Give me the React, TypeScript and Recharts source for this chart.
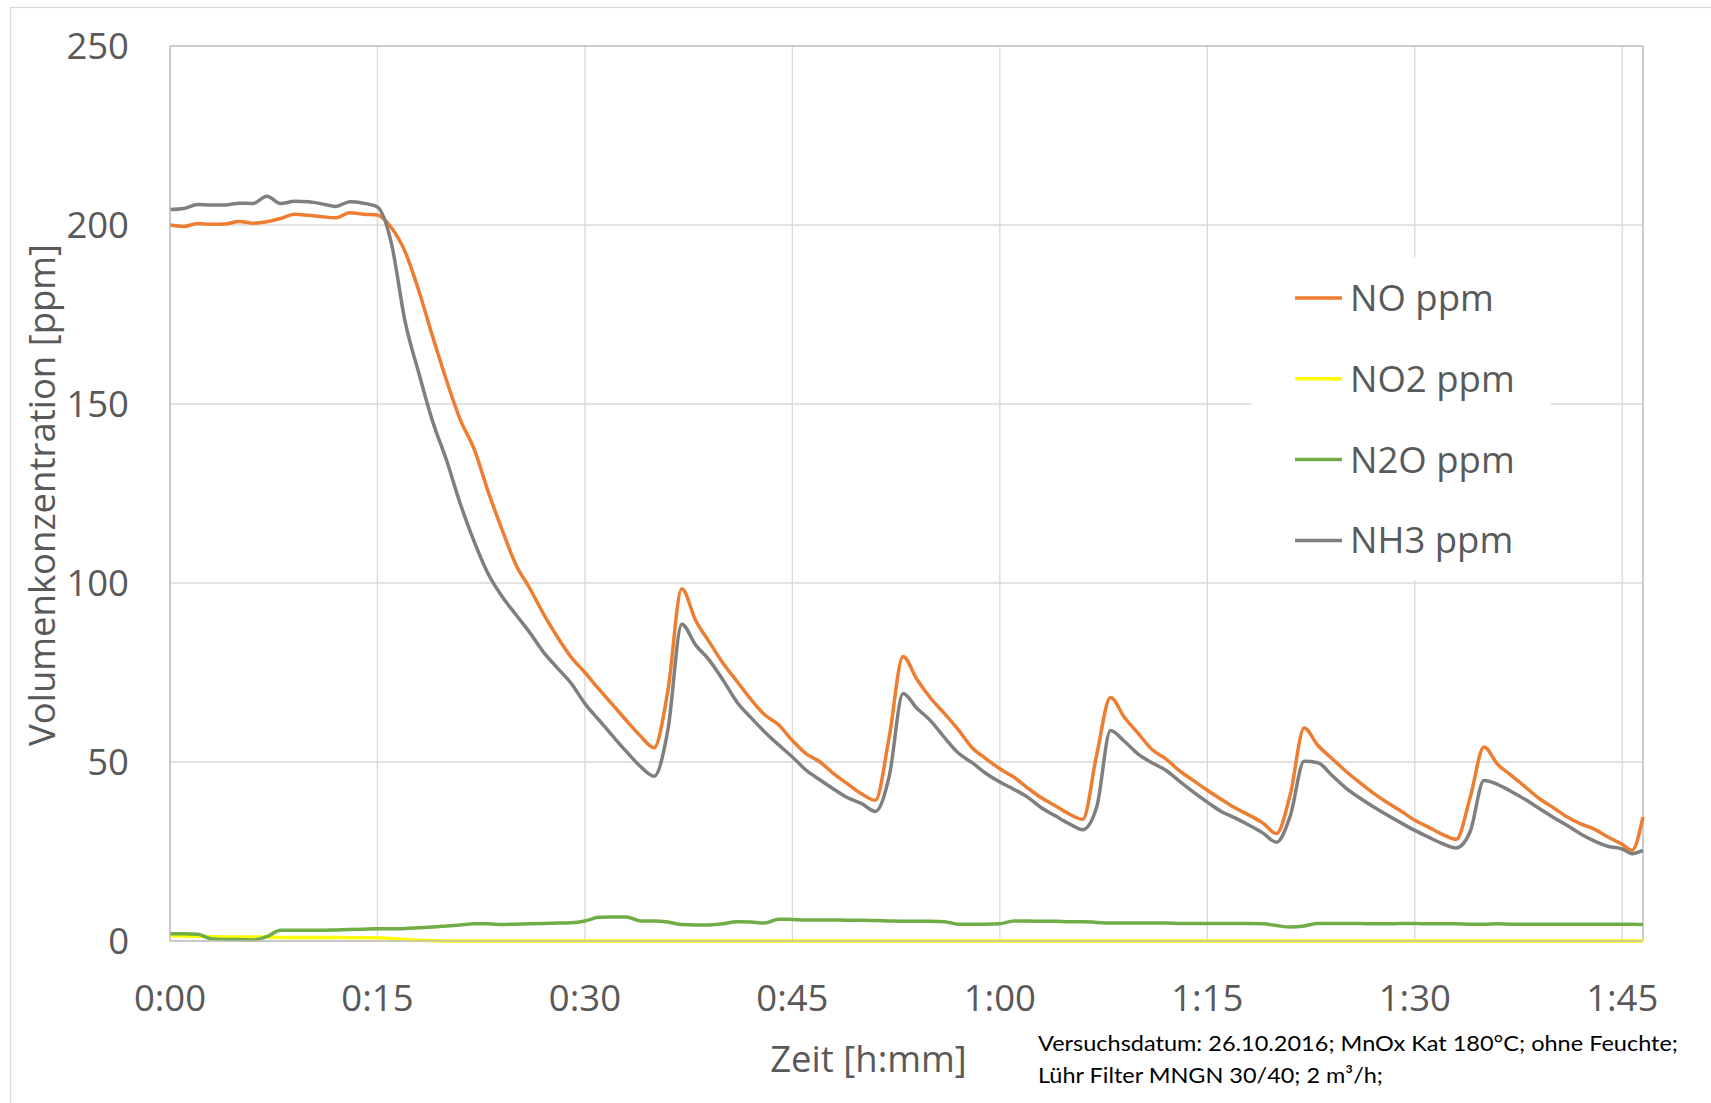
import React from 'react';
import {
  LineChart,
  Line,
  XAxis,
  YAxis,
  CartesianGrid,
  Legend,
  ReferenceLine,
} from 'recharts';

const FONT = "'Open Sans', 'Noto Sans', sans-serif";
const TEXT_COLOR = '#595959';

// Sample times in minutes since start
const minutes = [
  0, 1, 2, 3, 4, 5, 6, 7, 8, 9,
  10, 11, 12, 13, 14, 15, 16, 17, 18, 19,
  20, 21, 22, 23, 24, 25, 26, 27, 28, 29,
  30, 31, 32, 33, 34, 35, 36, 37, 38, 39,
  40, 41, 42, 43, 44, 45, 46, 47, 48, 49,
  50, 51, 52, 53, 54, 55, 56, 57, 58, 59,
  60, 61, 62, 63, 64, 65, 66, 67, 68, 69,
  70, 71, 72, 73, 74, 75, 76, 77, 78, 79,
  80, 81, 82, 83, 84, 85, 86, 87, 88, 89,
  90, 91, 92, 93, 94, 95, 96, 97, 98, 99,
  100, 101, 102, 103, 104, 105, 105.7, 106.5,
];

const noPpm = [
  200, 199.6, 200.4, 200.2, 200.3, 201, 200.5, 200.9, 201.8, 203,
  202.7, 202.3, 202, 203.4, 203, 202.8, 199.3, 192.5, 181.5, 168.7,
  156.5, 145.5, 137.3, 125.6, 115, 105.2, 98.6, 91.4, 85, 79.3,
  75, 70.4, 66, 61.6, 57.3, 54, 70, 98.4, 89.6, 83.5,
  77.5, 72.5, 67.5, 63.2, 60.4, 56, 52.3, 50, 46.7, 43.9,
  41.1, 39.3, 57, 79.5, 73.1, 67.8, 63.5, 59, 54, 50.9,
  48.1, 45.8, 42.8, 40, 37.8, 35.5, 34, 52, 68, 62.5,
  58, 53.5, 50.9, 47.5, 44.8, 42.1, 39.6, 37.2, 35.2, 33,
  30, 41, 59.5, 54.6, 51, 47.5, 44.3, 41.3, 38.7, 36.3,
  33.7, 31.8, 29.8, 28.4, 40, 54.2, 49.3, 46.2, 43, 39.8,
  37.3, 34.7, 32.7, 31.2, 29, 27, 25.3, 34.6,
];

const no2Ppm = [
  1.5, 1.4, 1.3, 1.2, 1.1, 1.1, 1.1, 1.1, 1, 1,
  1, 1, 1, 0.9, 0.9, 0.9, 0.7, 0.4, 0.2, 0.1,
  0, 0, 0, 0, 0, 0, 0, 0, 0, 0,
  0, 0, 0, 0, 0, 0, 0, 0, 0, 0,
  0, 0, 0, 0, 0, 0, 0, 0, 0, 0,
  0, 0, 0, 0, 0, 0, 0, 0, 0, 0,
  0, 0, 0, 0, 0, 0, 0, 0, 0, 0,
  0, 0, 0, 0, 0, 0, 0, 0, 0, 0,
  0, 0, 0, 0, 0, 0, 0, 0, 0, 0,
  0, 0, 0, 0, 0, 0, 0, 0, 0, 0,
  0, 0, 0, 0, 0, 0, 0, 0,
];

const n2oPpm = [
  2, 2, 1.9, 0.6, 0.4, 0.4, 0.3, 1.2, 3, 3,
  3, 3, 3.1, 3.2, 3.3, 3.4, 3.4, 3.5, 3.7, 3.9,
  4.2, 4.5, 4.8, 4.8, 4.6, 4.7, 4.8, 4.9, 5, 5.1,
  5.6, 6.6, 6.7, 6.7, 5.6, 5.6, 5.3, 4.6, 4.5, 4.5,
  4.8, 5.4, 5.3, 5, 6.1, 6, 5.9, 5.9, 5.9, 5.8,
  5.8, 5.7, 5.6, 5.5, 5.5, 5.5, 5.4, 4.7, 4.7, 4.7,
  4.8, 5.6, 5.6, 5.5, 5.5, 5.4, 5.4, 5.2, 5, 5,
  5, 5, 5, 4.9, 4.9, 4.9, 4.9, 4.9, 4.9, 4.8,
  4.3, 3.9, 4.2, 4.9, 4.9, 4.9, 4.9, 4.8, 4.8, 4.9,
  4.9, 4.8, 4.8, 4.8, 4.7, 4.7, 4.8, 4.7, 4.7, 4.7,
  4.7, 4.7, 4.7, 4.7, 4.7, 4.7, 4.7, 4.6,
];

const nh3Ppm = [
  204.3, 204.6, 205.7, 205.6, 205.6, 206.1, 206, 208, 206, 206.6,
  206.5, 205.9, 205.2, 206.5, 206.1, 205, 195, 173, 158.5, 145,
  134.2, 122, 111.5, 102.6, 96.3, 91.2, 86.2, 80.7, 76.3, 72,
  66.3, 61.8, 57.3, 52.9, 48.8, 46, 59, 88.5, 82.7, 78.4,
  72.8, 66.7, 62.4, 58.4, 54.8, 51.4, 47.7, 45, 42.4, 40,
  38.4, 36.2, 46, 69.1, 65, 61.5, 56.8, 52.5, 49.8, 46.8,
  44.4, 42.4, 40.2, 37.2, 35, 32.8, 31.1, 37.4, 58.8, 55.8,
  52.2, 49.8, 47.7, 44.6, 41.6, 38.8, 36.2, 34.4, 32.4, 30.2,
  27.6, 35, 50.2, 49.8, 46.3, 42.8, 40, 37.5, 35.2, 33,
  30.9, 29, 27.2, 26, 30.5, 44.8, 43.7, 41.7, 39.5, 37,
  34.6, 32.3, 29.9, 27.9, 26.4, 25.7, 24.4, 25.3,
];

const seriesNames = ['NO ppm', 'NO2 ppm', 'N2O ppm', 'NH3 ppm'];
const seriesKeys = ['no', 'no2', 'n2o', 'nh3'];
const seriesColors = ['#ED7D31', '#FFFF00', '#70AD47', '#7F7F7F'];

const xTicks = [0, 15, 30, 45, 60, 75, 90, 105];
const xTickLabels = ['0:00', '0:15', '0:30', '0:45', '1:00', '1:15', '1:30', '1:45'];
const yTicks = [0, 50, 100, 150, 200, 250];

const noteLines = [
  'Versuchsdatum: 26.10.2016; MnOx Kat 180°C; ohne Feuchte;',
  'Lühr Filter MNGN 30/40; 2 m³/h;',
];

const LINE_WIDTH = 3.5;

const rows = minutes.map((t, i) => ({
  t,
  no: noPpm[i],
  no2: no2Ppm[i],
  n2o: n2oPpm[i],
  nh3: nh3Ppm[i],
}));

// Legend entries kept in series order (recharts sorts by name otherwise)
const renderLegend = (props: any) => {
  const payload = [...(props.payload || [])].sort(
    (a: any, b: any) => seriesNames.indexOf(a.value) - seriesNames.indexOf(b.value),
  );
  return (
    <svg width={299} height={323} style={{ display: 'block' }}>
      <rect x={0} y={0} width={299} height={323} fill="#ffffff" />
      {payload.map((entry: any, i: number) => {
        const cy = 41 + i * 80.8;
        return (
          <g key={String(entry.value)}>
            <line x1={43} x2={90} y1={cy} y2={cy} stroke={entry.color} strokeWidth={LINE_WIDTH} />
            <text
              x={98}
              y={cy}
              dy="0.355em"
              fontSize={36.5}
              fontFamily={FONT}
              fill={TEXT_COLOR}
            >
              {entry.value}
            </text>
          </g>
        );
      })}
    </svg>
  );
};

export default function App() {
  const tickStyle = { fill: TEXT_COLOR, fontSize: 36.5, fontFamily: FONT };

  return (
    <div
      style={{
        position: 'absolute',
        left: 0,
        top: 0,
        width: 1711,
        height: 1103,
        background: '#ffffff',
        overflow: 'hidden',
      }}
    >
      <LineChart
        width={1711}
        height={1103}
        data={rows}
        margin={{ top: 46, right: 68, bottom: 0, left: 0 }}
      >
        <CartesianGrid stroke="#d9d9d9" strokeWidth={1.3} />
        <XAxis
          type="number"
          dataKey="t"
          domain={[0, 106.5]}
          ticks={xTicks}
          interval={0}
          height={162}
          tickFormatter={(v: number) => xTickLabels[xTicks.indexOf(v)]}
          axisLine={{ stroke: '#bfbfbf', strokeWidth: 1.5 }}
          tickLine={false}
          tickSize={6}
          tickMargin={38}
          tick={tickStyle}
        />
        <YAxis
          type="number"
          domain={[0, 250]}
          ticks={yTicks}
          interval={0}
          width={170}
          axisLine={{ stroke: '#bfbfbf', strokeWidth: 1.5 }}
          tickLine={false}
          tickSize={6}
          tickMargin={35}
          tick={tickStyle}
        />
        <ReferenceLine y={250} stroke="#c4c4c4" strokeWidth={1.5} />
        <ReferenceLine x={106.5} stroke="#c4c4c4" strokeWidth={1.5} />
        <Legend
          layout="vertical"
          align="center"
          verticalAlign="middle"
          width={299}
          height={323}
          wrapperStyle={{ left: 1252, top: 257, width: 299, height: 323 }}
          content={renderLegend}
        />
        {seriesKeys.map((key, i) => (
          <Line
            key={key}
            type="monotone"
            dataKey={key}
            name={seriesNames[i]}
            stroke={seriesColors[i]}
            strokeWidth={LINE_WIDTH}
            dot={false}
            activeDot={false}
            isAnimationActive={false}
          />
        ))}
      </LineChart>

      <svg
        width={1711}
        height={1103}
        style={{ position: 'absolute', left: 0, top: 0, pointerEvents: 'none' }}
      >
        <rect x={10.5} y={7.5} width={1720} height={1120} fill="none" stroke="#d9d9d9" strokeWidth={1.3} />
        <text
          transform="translate(42 495) rotate(-90)"
          textAnchor="middle"
          dy="0.355em"
          fontSize={36.5}
          fontFamily={FONT}
          fill={TEXT_COLOR}
        >
          Volumenkonzentration [ppm]
        </text>
        <text
          x={868.5}
          y={1071.5}
          textAnchor="middle"
          fontSize={36.5}
          fontFamily={FONT}
          fill={TEXT_COLOR}
        >
          Zeit [h:mm]
        </text>
        <text
          x={1038}
          y={1051}
          fontSize={22}
          fontFamily="Lato, 'Open Sans', sans-serif"
          fill="#000000"
          textLength={640}
          lengthAdjust="spacingAndGlyphs"
        >
          {noteLines[0]}
        </text>
        <text
          x={1038}
          y={1083}
          fontSize={22}
          fontFamily="Lato, 'Open Sans', sans-serif"
          fill="#000000"
          textLength={345}
          lengthAdjust="spacingAndGlyphs"
        >
          {noteLines[1]}
        </text>
      </svg>
    </div>
  );
}
